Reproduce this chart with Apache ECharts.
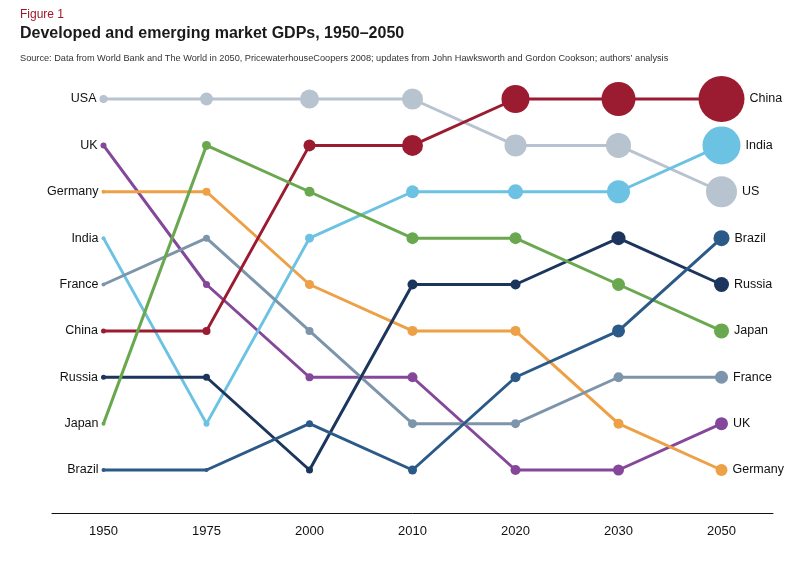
<!DOCTYPE html>
<html><head><meta charset="utf-8">
<script src="https://cdn.jsdelivr.net/npm/echarts@6/dist/echarts.min.js"></script>
<style>html,body{margin:0;padding:0;background:#fff}#c{width:801px;height:569px}</style>
</head><body><div id="c"></div>
<script>
const years = ['1950','1975','2000','2010','2020','2030','2050'];
const countries = ['USA','UK','Germany','India','France','China','Russia','Japan','Brazil'];
const endNames = ['US','UK','Germany','India','France','China','Russia','Japan','Brazil'];
const usaRank = [1,1,1,1,2,2,3];
const ukRank = [2,5,7,7,9,9,8];
const germanyRank = [3,3,5,6,6,8,9];
const indiaRank = [4,8,4,3,3,3,2];
const franceRank = [5,4,6,8,8,7,7];
const chinaRank = [6,6,2,2,1,1,1];
const russiaRank = [7,7,9,5,5,4,5];
const japanRank = [8,2,3,4,4,5,6];
const brazilRank = [9,9,8,9,7,6,4];
const ranks = [usaRank, ukRank, germanyRank, indiaRank, franceRank, chinaRank, russiaRank, japanRank, brazilRank];

// styling: marker diameters (px) and colours
const markerSizes = [
  [8,13,19,21,22,25,31],
  [6,7,8,10,10,11,13],
  [4,8,9,10,10,10,12],
  [4,6,9,13,15,23,38],
  [4,7,8,9,9,10,13],
  [5,8,12,21,28,34,46],
  [5,7,7,10,10,14,15],
  [4,9,10,12,12,13,15],
  [4,4,7,9,10,13,16]
];
const colors = ['#b8c3d0','#84479a','#eda045','#6cc2e2','#7d95ab','#9b1b30','#1b355c','#6aa84f','#2b5a88'];

const FONT = 'Liberation Sans, Arial, sans-serif';
const labelFont = {color:'#111', fontSize:12.5, fontFamily: FONT};

const series = countries.map((name, i) => ({
  name: name,
  type: 'line',
  clip: false,
  symbol: 'circle',
  lineStyle: {width: 3, color: colors[i]},
  itemStyle: {color: colors[i]},
  emphasis: {disabled: true},
  z: 2 + i,
  data: ranks[i].map((r, j) => {
    const item = {value: r, symbolSize: markerSizes[i][j]};
    if (j === 0) item.label = Object.assign({show: true, position: 'left', distance: 3, formatter: name}, labelFont);
    if (j === years.length - 1) item.label = Object.assign({show: true, position: 'right', distance: 5, formatter: endNames[i]}, labelFont);
    return item;
  })
}));

const chart = echarts.init(document.getElementById('c'), null, {renderer: 'canvas'});
chart.setOption({
  animation: false,
  backgroundColor: '#fff',
  title: [
    {text: 'Figure 1', left: 20, top: 9, padding: 0, textStyle: {color: '#a0172d', fontSize: 12, fontWeight: 'normal', fontFamily: FONT}},
    {text: 'Developed and emerging market GDPs, 1950–2050', left: 20, top: 26, padding: 0, textStyle: {color: '#1a1a1a', fontSize: 16, fontWeight: 'bold', fontFamily: FONT}},
    {text: "Source: Data from World Bank and The World in 2050, PricewaterhouseCoopers 2008; updates from John Hawksworth and Gordon Cookson; authors’ analysis", left: 20, top: 54, padding: 0, textStyle: {color: '#333', fontSize: 9.2, fontWeight: 'normal', fontFamily: FONT}}
  ],
  grid: {left: 52, right: 28, top: 99, bottom: 99},
  xAxis: {
    type: 'category',
    data: years,
    boundaryGap: true,
    offset: 43,
    axisLine: {lineStyle: {color: '#111', width: 1}},
    axisTick: {show: false},
    axisLabel: {margin: 12, color: '#111', fontSize: 13, fontFamily: FONT},
    splitLine: {show: false}
  },
  yAxis: {
    type: 'value',
    inverse: true,
    min: 1, max: 9,
    show: false
  },
  series: series
});
</script></body></html>
